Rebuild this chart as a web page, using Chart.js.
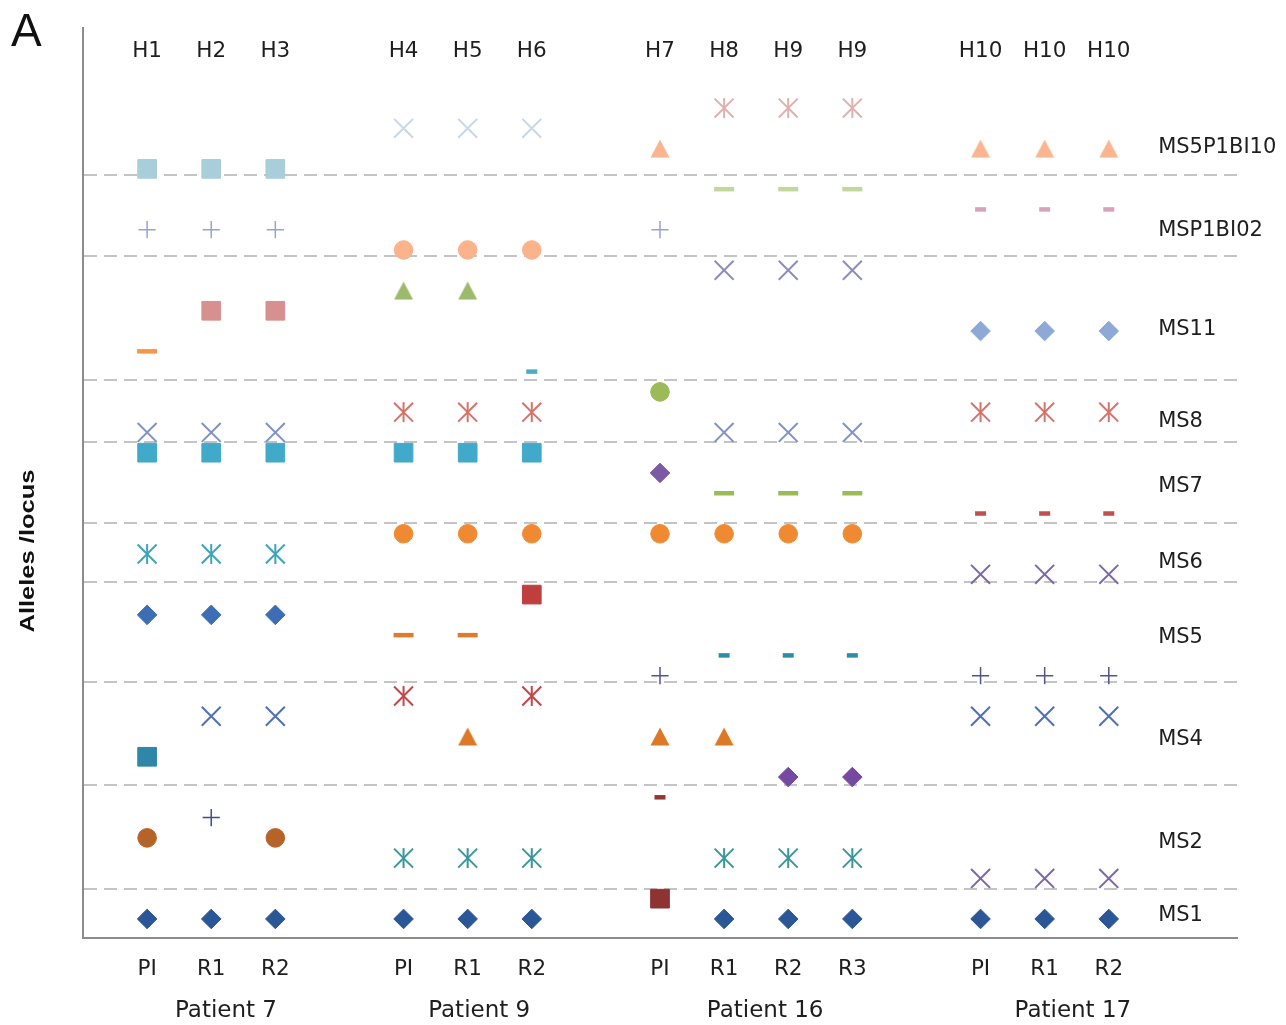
<!DOCTYPE html>
<html>
<head>
<meta charset="utf-8">
<script src="https://cdn.jsdelivr.net/npm/chart.js@4.4.1/dist/chart.umd.min.js"></script>
<style>
  html, body { margin: 0; padding: 0; background: #ffffff; }
  #wrap { width: 1286px; height: 1025px; }
</style>
</head>
<body>
<div id="wrap"><canvas id="c" width="1286" height="1025"></canvas></div>
<script>
// ---- categories ----
const patients   = ['Patient 7', 'Patient 9', 'Patient 16', 'Patient 17'];
const samples    = [['PI', 'R1', 'R2'], ['PI', 'R1', 'R2'], ['PI', 'R1', 'R2', 'R3'], ['PI', 'R1', 'R2']];
const haplotypes = ['H1', 'H2', 'H3', 'H4', 'H5', 'H6', 'H7', 'H8', 'H9', 'H9', 'H10', 'H10', 'H10'];
const loci       = ['MS1', 'MS2', 'MS4', 'MS5', 'MS6', 'MS7', 'MS8', 'MS11', 'MSP1BI02', 'MS5P1BI10'];
// allele-row limits separating one locus from the next
const locusBounds = [1.48, 6.6, 11.7, 16.6, 19.55, 23.55, 26.6, 32.7, 36.7];

// ---- allele rows per sample (order: P7 PI,R1,R2 | P9 PI,R1,R2 | P16 PI,R1,R2,R3 | P17 PI,R1,R2) ----
const _ = null;
const ms1A = [0, 0, 0,  0, 0, 0,  _, 0, 0, 0,  0, 0, 0];
const ms1B = [_, _, _,  _, _, _,  1, _, _, _,  _, _, _];
const ms2A = [_, _, _,  _, _, _,  _, _, _, _,  2, 2, 2];
const ms2B = [_, _, _,  3, 3, 3,  _, 3, 3, 3,  _, _, _];
const ms2C = [4, _, 4,  _, _, _,  _, _, _, _,  _, _, _];
const ms2D = [_, 5, _,  _, _, _,  _, _, _, _,  _, _, _];
const ms2E = [_, _, _,  _, _, _,  6, _, _, _,  _, _, _];
const ms4A = [_, _, _,  _, _, _,  _, _, 7, 7,  _, _, _];
const ms4B = [8, _, _,  _, _, _,  _, _, _, _,  _, _, _];
const ms4C = [_, _, _,  _, 9, _,  9, 9, _, _,  _, _, _];
const ms4D = [_, 10, 10, _, _, _, _, _, _, _,  10, 10, 10];
const ms4E = [_, _, _,  11, _, 11, _, _, _, _, _, _, _];
const ms5A = [_, _, _,  _, _, _,  12, _, _, _, 12, 12, 12];
const ms5B = [_, _, _,  _, _, _,  _, 13, 13, 13, _, _, _];
const ms5C = [_, _, _,  14, 14, _, _, _, _, _, _, _, _];
const ms5D = [15, 15, 15, _, _, _, _, _, _, _, _, _, _];
const ms5E = [_, _, _,  _, _, 16, _, _, _, _, _, _, _];
const ms6A = [_, _, _,  _, _, _,  _, _, _, _, 17, 17, 17];
const ms6B = [18, 18, 18, _, _, _, _, _, _, _, _, _, _];
const ms6C = [_, _, _,  19, 19, 19, 19, 19, 19, 19, _, _, _];
const ms7A = [_, _, _,  _, _, _,  _, _, _, _, 20, 20, 20];
const ms7B = [_, _, _,  _, _, _,  _, 21, 21, 21, _, _, _];
const ms7C = [_, _, _,  _, _, _,  22, _, _, _, _, _, _];
const ms7D = [23, 23, 23, 23, 23, 23, _, _, _, _, _, _, _];
const ms8A = [24, 24, 24, _, _, _, _, 24, 24, 24, _, _, _];
const ms8B = [_, _, _,  25, 25, 25, _, _, _, _, 25, 25, 25];
const ms8C = [_, _, _,  _, _, _,  26, _, _, _, _, _, _];
const ms11A = [_, _, _, _, _, 27, _, _, _, _, _, _, _];
const ms11B = [28, _, _, _, _, _, _, _, _, _, _, _, _];
const ms11C = [_, _, _, _, _, _, _, _, _, _, 29, 29, 29];
const ms11D = [_, 30, 30, _, _, _, _, _, _, _, _, _, _];
const ms11E = [_, _, _, 31, 31, _, _, _, _, _, _, _, _];
const ms11F = [_, _, _, _, _, _, _, 32, 32, 32, _, _, _];
const b02A = [_, _, _,  33, 33, 33, _, _, _, _, _, _, _];
const b02B = [34, 34, 34, _, _, _, 34, _, _, _, _, _, _];
const b02C = [_, _, _,  _, _, _,  _, _, _, _, 35, 35, 35];
const b02D = [_, _, _,  _, _, _,  _, 36, 36, 36, _, _, _];
const b10A = [37, 37, 37, _, _, _, _, _, _, _, _, _, _];
const b10B = [_, _, _,  _, _, _,  38, _, _, _, 38, 38, 38];
const b10C = [_, _, _,  39, 39, 39, _, _, _, _, _, _, _];
const b10D = [_, _, _,  _, _, _,  _, 40, 40, 40, _, _, _];

// ---- layout ----
const FONT = '"DejaVu Sans", Verdana, sans-serif';
const TEXT = '#1e1e1e';
const locusLabelAt = [0.15, 3.75, 8.83, 13.86, 17.56, 21.31, 24.52, 29.06, 33.94, 38.04];
const locusLabelX = 15.77;
const patientLabelShift = [0.23, 0.18, 0.14, 0.44];

// x position of every sample column, one empty slot between patients
const colX = [];
const groupRange = [];
let p = 0;
samples.forEach(g => {
  const start = p;
  g.forEach(() => colX.push(p++));
  groupRange.push([start, p - 1]);
  p++;
});
const sampleLabels = samples.flat();

// upward triangle sprite, centred on its bounding box
function triangleSprite(color) {
  const c = document.createElement('canvas');
  c.width = 20; c.height = 19;
  const g = c.getContext('2d');
  g.fillStyle = color;
  g.beginPath();
  g.moveTo(10, 0.5);
  g.lineTo(19.5, 18.5);
  g.lineTo(0.5, 18.5);
  g.closePath();
  g.fill();
  return c;
}

const shapes = {
  square:   { pointStyle: 'rect',     pointRadius: 13.2, pointBorderWidth: 1 },
  circle:   { pointStyle: 'circle',   pointRadius: 9.3,  pointBorderWidth: 1 },
  diamond:  { pointStyle: 'rectRot',  pointRadius: 9.8,  pointBorderWidth: 1 },
  cross:    { pointStyle: 'crossRot', pointRadius: 13.4, pointBorderWidth: 2 },
  plus:     { pointStyle: 'cross',    pointRadius: 8.6,  pointBorderWidth: 1.5 },
  dash:     { pointStyle: 'line',     pointRadius: 10,   pointBorderWidth: 4.5 },
  tick:     { pointStyle: 'line',     pointRadius: 5.5,  pointBorderWidth: 4.5 }
};

function points(values) {
  const out = [];
  values.forEach((v, i) => { if (v !== null) out.push({ x: colX[i], y: v }); });
  return out;
}

const datasets = [];
function series(label, values, shape, color) {
  const data = points(values);
  if (shape === 'star') {
    // asterisk: diagonal cross plus a vertical bar
    datasets.push({ label, data, pointStyle: 'crossRot', pointRadius: 13.4, pointBorderWidth: 2,
                    pointBorderColor: color, pointBackgroundColor: color });
    datasets.push({ label: label + ' bar', data, pointStyle: 'line', pointRotation: 90, pointRadius: 10,
                    pointBorderWidth: 2, pointBorderColor: color, pointBackgroundColor: color });
    return;
  }
  if (shape === 'triangle') {
    datasets.push({ label, data, pointStyle: triangleSprite(color), pointRadius: 10 });
    return;
  }
  datasets.push(Object.assign({ label, data, pointBorderColor: color, pointBackgroundColor: color }, shapes[shape]));
}

series('MS1 a', ms1A, 'diamond', '#2c5797');
series('MS1 b', ms1B, 'square', '#8e3232');
series('MS2 a', ms2A, 'cross', '#7c68a6');
series('MS2 b', ms2B, 'star', '#38969e');
series('MS2 c', ms2C, 'circle', '#b6632a');
series('MS2 d', ms2D, 'plus', '#3c4e8e');
series('MS2 e', ms2E, 'tick', '#943634');
series('MS4 a', ms4A, 'diamond', '#7549a2');
series('MS4 b', ms4B, 'square', '#2e87a8');
series('MS4 c', ms4C, 'triangle', '#dc7826');
series('MS4 d', ms4D, 'cross', '#4f70b5');
series('MS4 e', ms4E, 'star', '#c2464a');
series('MS5 a', ms5A, 'plus', '#50548f');
series('MS5 b', ms5B, 'tick', '#2f8ca8');
series('MS5 c', ms5C, 'dash', '#df7b2c');
series('MS5 d', ms5D, 'diamond', '#3d6eb5');
series('MS5 e', ms5E, 'square', '#bf3f3f');
series('MS6 a', ms6A, 'cross', '#7b68a6');
series('MS6 b', ms6B, 'star', '#3ea5b9');
series('MS6 c', ms6C, 'circle', '#ef8a33');
series('MS7 a', ms7A, 'tick', '#c0504d');
series('MS7 b', ms7B, 'dash', '#9bbb59');
series('MS7 c', ms7C, 'diamond', '#7c5aa6');
series('MS7 d', ms7D, 'square', '#41aacb');
series('MS8 a', ms8A, 'cross', '#7f93c6');
series('MS8 b', ms8B, 'star', '#d4736b');
series('MS8 c', ms8C, 'circle', '#9bbb59');
series('MS11 a', ms11A, 'tick', '#4bacc6');
series('MS11 b', ms11B, 'dash', '#f79646');
series('MS11 c', ms11C, 'diamond', '#8ea9d6');
series('MS11 d', ms11D, 'square', '#d6918f');
series('MS11 e', ms11E, 'triangle', '#9bbb6a');
series('MS11 f', ms11F, 'cross', '#8d8dbf');
series('MSP1BI02 a', b02A, 'circle', '#fab38a');
series('MSP1BI02 b', b02B, 'plus', '#9aa3d0');
series('MSP1BI02 c', b02C, 'tick', '#d9a3b5');
series('MSP1BI02 d', b02D, 'dash', '#c3d69b');
series('MS5P1BI10 a', b10A, 'square', '#a9cdd9');
series('MS5P1BI10 b', b10B, 'triangle', '#fab590');
series('MS5P1BI10 c', b10C, 'cross', '#c9d6e6');
series('MS5P1BI10 d', b10D, 'star', '#e0b0b0');

// text around the plot: haplotypes, loci, samples, patients, axis title, panel letter
const annotations = {
  id: 'annotations',
  afterDraw(chart) {
    const { ctx, chartArea: a, scales: { x, y } } = chart;
    ctx.save();
    ctx.fillStyle = TEXT;
    ctx.textBaseline = 'middle';

    ctx.textAlign = 'center';
    ctx.font = '21.5px ' + FONT;
    haplotypes.forEach((h, i) => ctx.fillText(h, x.getPixelForValue(colX[i]), a.top + 23));
    sampleLabels.forEach((s, i) => ctx.fillText(s, x.getPixelForValue(colX[i]), a.bottom + 31));

    ctx.font = '23px ' + FONT;
    patients.forEach((name, i) => {
      const c = (groupRange[i][0] + groupRange[i][1]) / 2 + patientLabelShift[i];
      ctx.fillText(name, x.getPixelForValue(c), a.bottom + 73);
    });

    ctx.textAlign = 'left';
    ctx.font = '21px ' + FONT;
    loci.forEach((l, i) => ctx.fillText(l, x.getPixelForValue(locusLabelX), y.getPixelForValue(locusLabelAt[i])));

    // axis title
    ctx.save();
    ctx.font = 'bold 21px "Liberation Sans", Arial, sans-serif';
    const title = 'Alleles /locus';
    const w = ctx.measureText(title).width;
    ctx.translate(28, (a.top + a.bottom) / 2 + 68);
    ctx.rotate(-Math.PI / 2);
    ctx.scale(163 / w, 1);
    ctx.textAlign = 'center';
    ctx.fillStyle = '#111';
    ctx.fillText(title, 0, 0);
    ctx.restore();

    // panel letter
    ctx.font = '46px "Liberation Sans", Arial, sans-serif';
    ctx.textBaseline = 'alphabetic';
    ctx.fillStyle = '#111';
    ctx.fillText('A', 11, 46);
    ctx.restore();
  }
};

new Chart(document.getElementById('c'), {
  type: 'scatter',
  data: { datasets },
  options: {
    responsive: false,
    animation: false,
    events: [],
    layout: { padding: { left: 83, right: 49, top: 28, bottom: 87 } },
    plugins: { legend: { display: false }, tooltip: { enabled: false } },
    scales: {
      x: {
        type: 'linear', min: -1, max: 17,
        ticks: { display: false },
        grid: { display: false, drawTicks: false },
        border: { display: true, color: '#8c8c8c', width: 2 }
      },
      y: {
        type: 'linear', min: -0.94, max: 43.95,
        afterBuildTicks(scale) { scale.ticks = locusBounds.map(v => ({ value: v })); },
        ticks: { display: false },
        grid: { display: true, drawTicks: false, color: '#c4c4c4', lineWidth: 2 },
        border: { display: true, color: '#8c8c8c', width: 2, dash: [13, 7] }
      }
    }
  },
  plugins: [annotations]
});
</script>
</body>
</html>
